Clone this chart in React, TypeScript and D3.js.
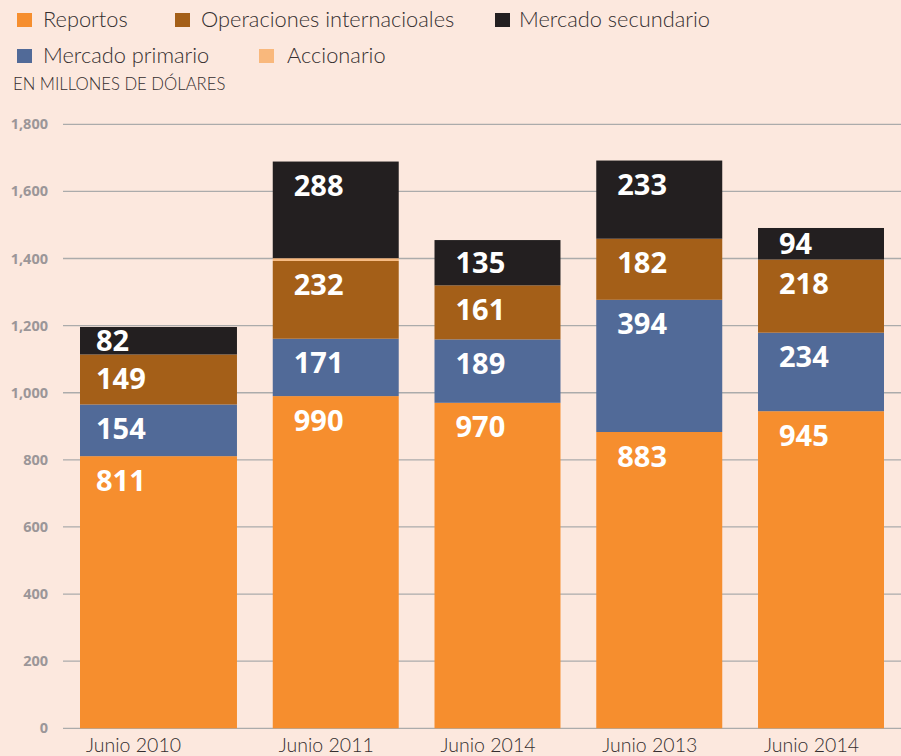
import React from "react";
import * as d3 from "d3";

const categories = ["Junio 2010", "Junio 2011", "Junio 2014", "Junio 2013", "Junio 2014"];
const reportos = [811, 990, 970, 883, 945];
const mercadoPrimario = [154, 171, 189, 394, 234];
const operaciones = [149, 232, 161, 182, 218];
const accionario = [0, 8, 0, 0, 0];
const mercadoSecundario = [82, 288, 135, 233, 94];
const yTicks = [0, 200, 400, 600, 800, 1000, 1200, 1400, 1600, 1800];

const seriesKeys = ["reportos", "primario", "operaciones", "accionario", "secundario"];
const seriesNames: Record<string, string> = {
  reportos: "Reportos",
  primario: "Mercado primario",
  accionario: "Accionario",
  operaciones: "Operaciones internacioales",
  secundario: "Mercado secundario",
};
const colors: Record<string, string> = {
  reportos: "#F68E2E",
  primario: "#516A98",
  accionario: "#F9B87C",
  operaciones: "#A45F18",
  secundario: "#231F20",
};
const showLabel: Record<string, boolean> = {
  reportos: true,
  primario: true,
  accionario: false,
  operaciones: true,
  secundario: true,
};

const W = 901;
const H = 756;
const BG = "#FCE8DE";
const GRID_X0 = 63;
const BAR_X0 = 80;
const BAR_X1 = 884;
const FIRST_WEIGHT = 1.246;
const GAP_WEIGHT = 0.284;

export default function App() {
  const table = categories.map((c, i) => ({
    idx: i,
    reportos: reportos[i],
    primario: mercadoPrimario[i],
    accionario: accionario[i],
    operaciones: operaciones[i],
    secundario: mercadoSecundario[i],
  }));
  const stacked = d3.stack<any>().keys(seriesKeys)(table);

  const y = d3.scaleLinear().domain([0, 1800]).range([728.3, 124.3]);

  const weights = categories.map((_, i) => (i === 0 ? FIRST_WEIGHT : 1));
  const starts: number[] = [];
  let acc = 0;
  weights.forEach((w, i) => {
    starts.push(acc);
    acc += w + (i < weights.length - 1 ? GAP_WEIGHT : 0);
  });
  const xu = d3.scaleLinear().domain([0, acc]).range([BAR_X0, BAR_X1]);
  const bx = (i: number) => xu(starts[i]);
  const bw = (i: number) => xu(starts[i] + weights[i]) - xu(starts[i]);

  const legendRows = [
    [
      { key: "reportos", x: 17, tx: 43 },
      { key: "operaciones", x: 175, tx: 201 },
      { key: "secundario", x: 495, tx: 519 },
    ],
    [
      { key: "primario", x: 17, tx: 43 },
      { key: "accionario", x: 259, tx: 287 },
    ],
  ];

  return (
    <svg
      width={W}
      height={H}
      style={{ position: "absolute", left: 0, top: 0, display: "block", background: BG }}
    >
      <rect x={0} y={0} width={W} height={H} fill={BG} />
      {legendRows.map((row, ri) =>
        row.map((it) => (
          <g key={it.key}>
            <rect x={it.x} y={13 + ri * 36} width={15} height={14} fill={colors[it.key]} />
            <text
              x={it.tx}
              y={27 + ri * 36}
              fontFamily="Lato, 'Open Sans', sans-serif"
              fontWeight={300}
              fontSize={21.8}
              fill="#342e2f"
            >
              {seriesNames[it.key]}
            </text>
          </g>
        ))
      )}
      <text
        x={13}
        y={90}
        fontFamily="Lato, 'Open Sans', sans-serif"
        fontWeight={300}
        fontSize={16.7}
        fill="#342e2f"
      >
        EN MILLONES DE DÓLARES
      </text>

      {yTicks.map((t) => (
        <g key={t}>
          <line x1={GRID_X0} x2={W} y1={y(t)} y2={y(t)} stroke="#ABABAB" strokeWidth={1.3} />
          <text
            x={48}
            y={y(t)}
            dy="0.35em"
            textAnchor="end"
            fontFamily="'Open Sans', Lato, sans-serif"
            fontWeight={700}
            fontSize={14.5}
            fill="#9B9698"
          >
            {d3.format(",")(t)}
          </text>
        </g>
      ))}

      {stacked.map((s) => (
        <g key={s.key} fill={colors[s.key]}>
          {s.map((d, i) => (
            <rect
              key={i}
              x={bx(i)}
              width={bw(i)}
              y={y(d[1])}
              height={Math.max(0, y(d[0]) - y(d[1]))}
            />
          ))}
        </g>
      ))}

      {stacked.map((s) =>
        showLabel[s.key]
          ? s.map((d, i) => {
              const top = y(d[1]);
              const h = y(d[0]) - y(d[1]);
              const cy = top + Math.min(h / 2, 24);
              return (
                <text
                  key={s.key + i}
                  x={bx(i) + (i === 0 ? 16 : 21)}
                  y={cy + 10.5}
                  fontFamily="'Open Sans', sans-serif"
                  fontWeight={700}
                  fontSize={29}
                  fill="#ffffff"
                >
                  {d.data[s.key]}
                </text>
              );
            })
          : null
      )}

      {categories.map((c, i) => (
        <text
          key={i}
          x={bx(i) + 6}
          y={752}
          fontFamily="Lato, 'Open Sans', sans-serif"
          fontWeight={300}
          fontSize={19.5}
          fill="#342e2f"
        >
          {c}
        </text>
      ))}
    </svg>
  );
}
